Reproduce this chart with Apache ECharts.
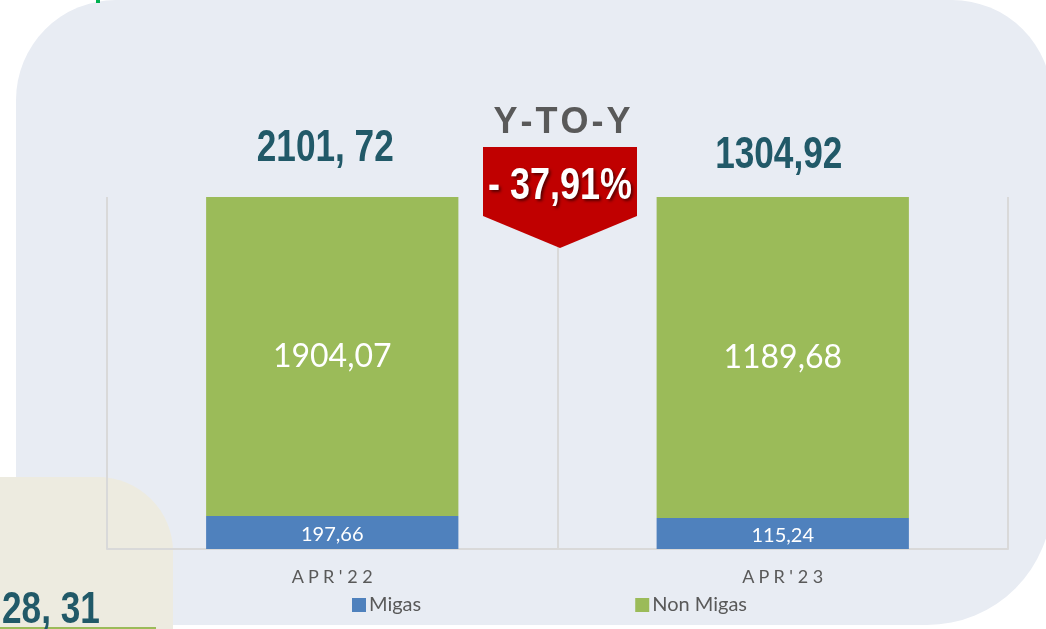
<!DOCTYPE html>
<html>
<head>
<meta charset="utf-8">
<script src="https://cdn.jsdelivr.net/npm/echarts@6/dist/echarts.min.js"></script>
<style>
html,body{margin:0;padding:0;background:#fff;}
#c{width:1046px;height:629px;}
</style>
</head>
<body>
<div id="c"></div>
<script>
var categories = ["APR'22", "APR'23"];
var migas = [197.66, 115.24];
var nonMigas = [1904.07, 1189.68];
var totals = [2101.72, 1304.92];
var totalLabels = ["2101, 72", "1304,92"];
var migasLabels = ["197,66", "115,24"];
var nonMigasLabels = ["1904,07", "1189,68"];
var yoyTitle = "Y-TO-Y";
var yoyLabel = "- 37,91%";
var cornerLabel = "28, 31";

var boldFont = "'Liberation Sans',Arial,sans-serif";
var labelFont = "Lato,'Open Sans',sans-serif";

function pct(v, i) { return v / (migas[i] + nonMigas[i]) * 100; }

var totalOffsets = [[-7, -48], [-4, -41]];

var chart = echarts.init(document.getElementById('c'));
var baseGraphic = [
  { type: 'rect', z: -10, silent: true,
    shape: { x: 16, y: 0, width: 1036, height: 625, r: [100, 100, 125, 0] },
    style: { fill: '#E8ECF3' } },
  { type: 'rect', z: -9, silent: true,
    shape: { x: -10, y: 477, width: 183, height: 170, r: [0, 75, 0, 0] },
    style: { fill: '#EDEBE0' } },
  { type: 'rect', z: -8, silent: true,
    shape: { x: 0, y: 627, width: 156, height: 3 },
    style: { fill: '#9BBB59' } },
  { type: 'rect', z: -8, silent: true,
    shape: { x: 96, y: 0, width: 4, height: 3 },
    style: { fill: '#00B050' } },
  { type: 'text', z: 10, x: 2, y: 611, scaleX: 0.8,
    style: { text: cornerLabel, fill: '#215968', font: "bold 44px " + boldFont,
             align: 'left', verticalAlign: 'middle' } },
  { type: 'text', z: 10, x: 562, y: 123,
    style: { text: yoyTitle.split('').join('\u200A'), fill: '#595959', font: "bold 36px " + boldFont,
             align: 'center', verticalAlign: 'middle' } },
  { type: 'polygon', z: 10,
    shape: { points: [[483, 147], [637, 147], [637, 216], [560, 248], [483, 216]] },
    style: { fill: '#C00000' } },
  { type: 'text', z: 11, x: 560, y: 187, scaleX: 0.8,
    style: { text: yoyLabel, fill: '#ffffff', font: "bold 45px " + boldFont,
             align: 'center', verticalAlign: 'middle',
             textShadowColor: 'rgba(0,0,0,0.55)', textShadowBlur: 3, textShadowOffsetX: 2, textShadowOffsetY: 2 } }
];

chart.setOption({
  backgroundColor: '#ffffff',
  animation: false,
  graphic: baseGraphic,
  grid: { left: 107, right: 38, top: 197, bottom: 80 },
  legend: {
    top: 590, left: 347,
    itemWidth: 14, itemHeight: 14, itemGap: 214,
    icon: 'rect',
    textStyle: { color: '#595959', fontSize: 20, fontFamily: labelFont, padding: [0, 0, 0, -2] },
    data: ['Migas', 'Non Migas']
  },
  xAxis: {
    type: 'category',
    data: categories,
    axisLine: { lineStyle: { color: '#D9D9D9', width: 2 } },
    axisTick: { show: false },
    splitLine: { show: true, lineStyle: { color: '#D9D9D9', width: 2 } },
    axisLabel: {
      color: '#595959', fontSize: 18, fontFamily: labelFont, margin: 19,
      formatter: function (v) { return v.split('').join('\u00A0'); }
    }
  },
  yAxis: { type: 'value', min: 0, max: 100, show: false, splitLine: { show: false } },
  series: [
    {
      name: 'Migas', type: 'bar', stack: 'a', barWidth: '56%',
      itemStyle: { color: '#4F81BD' },
      data: migas.map(function (v, i) { return pct(v, i); }),
      label: { show: true, position: 'inside', color: '#ffffff', fontSize: 20, fontFamily: labelFont,
               offset: [0, 2],
               formatter: function (p) { return migasLabels[p.dataIndex]; } }
    },
    {
      name: 'Non Migas', type: 'bar', stack: 'a', barWidth: '56%',
      itemStyle: { color: '#9BBB59' },
      data: nonMigas.map(function (v, i) { return pct(v, i); }),
      label: { show: true, position: 'inside', color: '#ffffff', fontSize: 32, fontFamily: labelFont,
               formatter: function (p) { return nonMigasLabels[p.dataIndex]; } }
    }
  ]
});

// Total labels above each stacked bar, positioned through the chart's own scales
var totalGraphics = categories.map(function (c, i) {
  var top = chart.convertToPixel({ seriesIndex: 1 }, [i, 100]);
  return { type: 'text', z: 10, x: top[0] + totalOffsets[i][0], y: top[1] + totalOffsets[i][1], scaleX: 0.8,
           style: { text: totalLabels[i], fill: '#215968', font: "bold 44px " + boldFont,
                    align: 'center', verticalAlign: 'middle' } };
});
chart.setOption({ graphic: baseGraphic.concat(totalGraphics) });
</script>
</body>
</html>
